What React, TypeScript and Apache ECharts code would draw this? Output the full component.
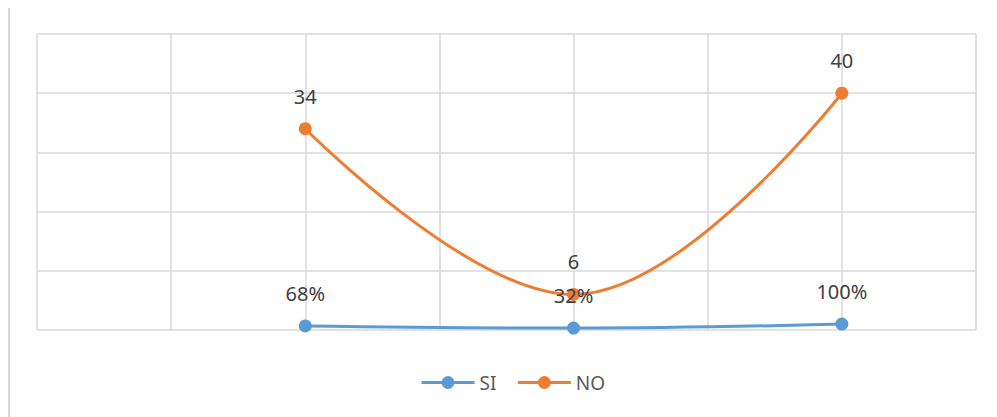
import React, { useEffect, useRef } from "react";
import * as echarts from "echarts";

const xPositions = [2, 4, 6];
const siValues = [0.68, 0.32, 1.0];
const siLabels = ["68%", "32%", "100%"];
const noValues = [34, 6, 40];
const seriesNames = ["SI", "NO"];

export default function App() {
  const ref = useRef<HTMLDivElement>(null);
  useEffect(() => {
    if (!ref.current) return;
    const chart = echarts.init(ref.current, null, { renderer: "svg" });
    const labelFont = { fontFamily: "Noto Sans", fontSize: 20, color: "#404040" };
    chart.setOption({
      animation: false,
      grid: { left: 27, top: 28, width: 939, height: 296 },
      xAxis: {
        type: "value",
        min: 0,
        max: 7,
        interval: 1,
        axisLabel: { show: false },
        axisTick: { show: false },
        axisLine: { show: false },
        splitLine: { show: true, lineStyle: { color: "#d9d9d9", width: 1.5 } },
      },
      yAxis: {
        type: "value",
        min: 0,
        max: 50,
        interval: 10,
        axisLabel: { show: false },
        axisTick: { show: false },
        axisLine: { show: false },
        splitLine: { show: true, lineStyle: { color: "#d9d9d9", width: 1.5 } },
      },
      legend: {
        left: 405,
        top: 362,
        itemWidth: 53,
        itemHeight: 16,
        itemGap: 20,
        lineStyle: { width: 3 },
        textStyle: { fontFamily: "Noto Sans", fontSize: 19, color: "#595959" },
        data: seriesNames,
      },
      series: [
        {
          name: seriesNames[0],
          type: "line",
          smooth: 0.4,
          data: xPositions.map((x, i) => [x, siValues[i]]),
          symbol: "circle",
          symbolSize: 13,
          itemStyle: { color: "#5b9bd5" },
          lineStyle: { color: "#5b9bd5", width: 3 },
          label: {
            show: true,
            position: "top",
            distance: 16,
            ...labelFont,
            formatter: (p: any) => siLabels[p.dataIndex],
          },
          z: 2,
        },
        {
          name: seriesNames[1],
          type: "line",
          smooth: 0.4,
          data: xPositions.map((x, i) => [x, noValues[i]]),
          symbol: "circle",
          symbolSize: 13,
          itemStyle: { color: "#ed7d31" },
          lineStyle: { color: "#ed7d31", width: 3 },
          label: {
            show: true,
            position: "top",
            distance: 16,
            ...labelFont,
            formatter: (p: any) => String(noValues[p.dataIndex]),
          },
          z: 1,
        },
      ],
    });
    return () => chart.dispose();
  }, []);
  return (
    <div
      style={{
        marginTop: -4,
        width: 989,
        height: 413,
        borderTop: "2px solid #d9d9d9",
        borderLeft: "2px solid #d9d9d9",
        boxSizing: "border-box",
        overflow: "hidden",
      }}
    >
      <div ref={ref} style={{ width: 987, height: 411 }} />
    </div>
  );
}
